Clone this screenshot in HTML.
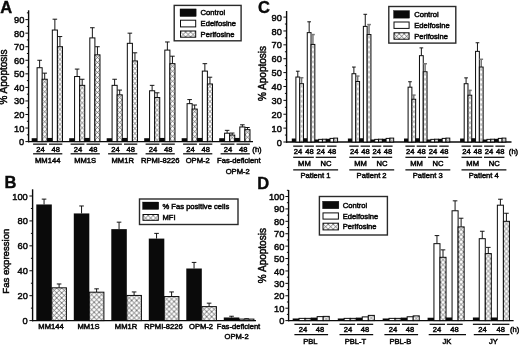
<!DOCTYPE html>
<html><head><meta charset="utf-8"><title>Figure</title>
<style>
html,body{margin:0;padding:0;background:#fff;}
body{width:520px;height:345px;overflow:hidden;font-family:"Liberation Sans",sans-serif;}
svg{display:block;will-change:transform;opacity:0.999;}
</style></head><body>
<svg width="520" height="345" viewBox="0 0 520 345" font-family="Liberation Sans, sans-serif">
<defs><pattern id="hA" patternUnits="userSpaceOnUse" width="5.0" height="5.0" x="0.040" y="0.000"><rect width="5.0" height="5.0" fill="#fff"/><path d="M0,0 L5.0,5.0 M5.0,0 L0,5.0" stroke="#333" stroke-width="0.62" fill="none" stroke-linecap="square"/></pattern><pattern id="hC" patternUnits="userSpaceOnUse" width="5.0" height="5.0" x="-0.605" y="0.000"><rect width="5.0" height="5.0" fill="#fff"/><path d="M0,0 L5.0,5.0 M5.0,0 L0,5.0" stroke="#333" stroke-width="0.45" fill="none" stroke-linecap="square"/></pattern><pattern id="hD" patternUnits="userSpaceOnUse" width="5.0" height="5.0" x="0.520" y="0.000"><rect width="5.0" height="5.0" fill="#fff"/><path d="M0,0 L5.0,5.0 M5.0,0 L0,5.0" stroke="#333" stroke-width="0.62" fill="none" stroke-linecap="square"/></pattern><pattern id="hB" patternUnits="userSpaceOnUse" width="5.0" height="5.0" x="4.800" y="0.000"><rect width="5.0" height="5.0" fill="#fff"/><path d="M0,0 L5.0,5.0 M5.0,0 L0,5.0" stroke="#333" stroke-width="0.68" fill="none" stroke-linecap="square"/></pattern><pattern id="hL" patternUnits="userSpaceOnUse" width="5.0" height="5.0" x="5.200" y="1.000"><rect width="5.0" height="5.0" fill="#fff"/><path d="M0,0 L5.0,5.0 M5.0,0 L0,5.0" stroke="#2a2a2a" stroke-width="0.6" fill="none" stroke-linecap="square"/></pattern></defs>
<rect width="520" height="345" fill="#fff"/>
<text x="0.20" y="12.60" font-size="16.5" text-anchor="start" font-weight="bold" stroke="#0a0a0a" stroke-width="0.4" fill="#0a0a0a">A</text>
<line x1="28.60" y1="10.30" x2="28.60" y2="142.30" stroke="#0a0a0a" stroke-width="1.4"/>
<line x1="25.40" y1="141.60" x2="28.60" y2="141.60" stroke="#0a0a0a" stroke-width="1.0"/>
<text transform="translate(24.30 145.14) scale(0.94 1)" font-size="9.9" text-anchor="end" stroke="#0a0a0a" stroke-width="0.5" fill="#0a0a0a">0</text>
<line x1="26.90" y1="134.82" x2="28.60" y2="134.82" stroke="#0a0a0a" stroke-width="1.0"/>
<line x1="25.40" y1="128.04" x2="28.60" y2="128.04" stroke="#0a0a0a" stroke-width="1.0"/>
<text transform="translate(24.30 131.59) scale(0.94 1)" font-size="9.9" text-anchor="end" stroke="#0a0a0a" stroke-width="0.5" fill="#0a0a0a">10</text>
<line x1="26.90" y1="121.27" x2="28.60" y2="121.27" stroke="#0a0a0a" stroke-width="1.0"/>
<line x1="25.40" y1="114.49" x2="28.60" y2="114.49" stroke="#0a0a0a" stroke-width="1.0"/>
<text transform="translate(24.30 118.03) scale(0.94 1)" font-size="9.9" text-anchor="end" stroke="#0a0a0a" stroke-width="0.5" fill="#0a0a0a">20</text>
<line x1="26.90" y1="107.71" x2="28.60" y2="107.71" stroke="#0a0a0a" stroke-width="1.0"/>
<line x1="25.40" y1="100.94" x2="28.60" y2="100.94" stroke="#0a0a0a" stroke-width="1.0"/>
<text transform="translate(24.30 104.48) scale(0.94 1)" font-size="9.9" text-anchor="end" stroke="#0a0a0a" stroke-width="0.5" fill="#0a0a0a">30</text>
<line x1="26.90" y1="94.16" x2="28.60" y2="94.16" stroke="#0a0a0a" stroke-width="1.0"/>
<line x1="25.40" y1="87.38" x2="28.60" y2="87.38" stroke="#0a0a0a" stroke-width="1.0"/>
<text transform="translate(24.30 90.92) scale(0.94 1)" font-size="9.9" text-anchor="end" stroke="#0a0a0a" stroke-width="0.5" fill="#0a0a0a">40</text>
<line x1="26.90" y1="80.60" x2="28.60" y2="80.60" stroke="#0a0a0a" stroke-width="1.0"/>
<line x1="25.40" y1="73.83" x2="28.60" y2="73.83" stroke="#0a0a0a" stroke-width="1.0"/>
<text transform="translate(24.30 77.37) scale(0.94 1)" font-size="9.9" text-anchor="end" stroke="#0a0a0a" stroke-width="0.5" fill="#0a0a0a">50</text>
<line x1="26.90" y1="67.05" x2="28.60" y2="67.05" stroke="#0a0a0a" stroke-width="1.0"/>
<line x1="25.40" y1="60.27" x2="28.60" y2="60.27" stroke="#0a0a0a" stroke-width="1.0"/>
<text transform="translate(24.30 63.81) scale(0.94 1)" font-size="9.9" text-anchor="end" stroke="#0a0a0a" stroke-width="0.5" fill="#0a0a0a">60</text>
<line x1="26.90" y1="53.49" x2="28.60" y2="53.49" stroke="#0a0a0a" stroke-width="1.0"/>
<line x1="25.40" y1="46.72" x2="28.60" y2="46.72" stroke="#0a0a0a" stroke-width="1.0"/>
<text transform="translate(24.30 50.26) scale(0.94 1)" font-size="9.9" text-anchor="end" stroke="#0a0a0a" stroke-width="0.5" fill="#0a0a0a">70</text>
<line x1="26.90" y1="39.94" x2="28.60" y2="39.94" stroke="#0a0a0a" stroke-width="1.0"/>
<line x1="25.40" y1="33.16" x2="28.60" y2="33.16" stroke="#0a0a0a" stroke-width="1.0"/>
<text transform="translate(24.30 36.70) scale(0.94 1)" font-size="9.9" text-anchor="end" stroke="#0a0a0a" stroke-width="0.5" fill="#0a0a0a">80</text>
<line x1="26.90" y1="26.38" x2="28.60" y2="26.38" stroke="#0a0a0a" stroke-width="1.0"/>
<line x1="25.40" y1="19.61" x2="28.60" y2="19.61" stroke="#0a0a0a" stroke-width="1.0"/>
<text transform="translate(24.30 23.15) scale(0.94 1)" font-size="9.9" text-anchor="end" stroke="#0a0a0a" stroke-width="0.5" fill="#0a0a0a">90</text>
<line x1="26.90" y1="12.83" x2="28.60" y2="12.83" stroke="#0a0a0a" stroke-width="1.0"/>
<line x1="28.00" y1="141.60" x2="253.00" y2="141.60" stroke="#0a0a0a" stroke-width="1.4"/>
<text x="7.30" y="77.00" font-size="10" text-anchor="middle" font-weight="normal" stroke="#0a0a0a" stroke-width="0.5" fill="#0a0a0a" transform="rotate(-90 7.30 77.00)">% Apoptosis</text>
<rect x="31.70" y="138.21" width="5.68" height="3.39" fill="#0a0a0a" stroke="#0a0a0a" stroke-width="0.01"/>
<line x1="39.62" y1="67.73" x2="39.62" y2="60.27" stroke="#0a0a0a" stroke-width="0.95"/>
<line x1="37.33" y1="60.27" x2="41.91" y2="60.27" stroke="#0a0a0a" stroke-width="0.95"/>
<rect x="37.08" y="67.73" width="5.08" height="73.87" fill="#fff" stroke="#0a0a0a" stroke-width="1.0"/>
<line x1="44.70" y1="79.25" x2="44.70" y2="73.15" stroke="#0a0a0a" stroke-width="0.95"/>
<line x1="42.41" y1="73.15" x2="46.99" y2="73.15" stroke="#0a0a0a" stroke-width="0.95"/>
<svg x="42.16" y="79.25" width="5.08" height="62.35"><rect x="0" y="0" width="5.08" height="62.35" fill="url(#hA)"/></svg>
<rect x="42.16" y="79.25" width="5.08" height="62.35" fill="none" stroke="#0a0a0a" stroke-width="1.0"/>
<rect x="46.94" y="137.94" width="5.68" height="3.66" fill="#0a0a0a" stroke="#0a0a0a" stroke-width="0.01"/>
<line x1="54.86" y1="30.04" x2="54.86" y2="19.20" stroke="#0a0a0a" stroke-width="0.95"/>
<line x1="52.57" y1="19.20" x2="57.15" y2="19.20" stroke="#0a0a0a" stroke-width="0.95"/>
<rect x="52.32" y="30.04" width="5.08" height="111.56" fill="#fff" stroke="#0a0a0a" stroke-width="1.0"/>
<line x1="59.94" y1="46.72" x2="59.94" y2="36.55" stroke="#0a0a0a" stroke-width="0.95"/>
<line x1="57.65" y1="36.55" x2="62.23" y2="36.55" stroke="#0a0a0a" stroke-width="0.95"/>
<svg x="57.40" y="46.72" width="5.08" height="94.88"><rect x="0" y="0" width="5.08" height="94.88" fill="url(#hA)"/></svg>
<rect x="57.40" y="46.72" width="5.08" height="94.88" fill="none" stroke="#0a0a0a" stroke-width="1.0"/>
<line x1="33.10" y1="144.15" x2="46.90" y2="144.15" stroke="#0a0a0a" stroke-width="1.25"/>
<line x1="49.00" y1="144.15" x2="62.30" y2="144.15" stroke="#0a0a0a" stroke-width="1.25"/>
<text x="40.60" y="152.00" font-size="7.6" text-anchor="middle" font-weight="normal" stroke="#0a0a0a" stroke-width="0.5" fill="#0a0a0a">24</text>
<text x="55.70" y="152.00" font-size="7.6" text-anchor="middle" font-weight="normal" stroke="#0a0a0a" stroke-width="0.5" fill="#0a0a0a">48</text>
<line x1="33.10" y1="153.80" x2="62.30" y2="153.80" stroke="#0a0a0a" stroke-width="1.25"/>
<text x="47.70" y="162.80" font-size="7.6" text-anchor="middle" font-weight="normal" stroke="#0a0a0a" stroke-width="0.5" fill="#0a0a0a">MM144</text>
<rect x="69.20" y="138.21" width="5.68" height="3.39" fill="#0a0a0a" stroke="#0a0a0a" stroke-width="0.01"/>
<line x1="77.12" y1="76.54" x2="77.12" y2="69.08" stroke="#0a0a0a" stroke-width="0.95"/>
<line x1="74.83" y1="69.08" x2="79.41" y2="69.08" stroke="#0a0a0a" stroke-width="0.95"/>
<rect x="74.58" y="76.54" width="5.08" height="65.06" fill="#fff" stroke="#0a0a0a" stroke-width="1.0"/>
<line x1="82.20" y1="85.35" x2="82.20" y2="79.25" stroke="#0a0a0a" stroke-width="0.95"/>
<line x1="79.91" y1="79.25" x2="84.49" y2="79.25" stroke="#0a0a0a" stroke-width="0.95"/>
<svg x="79.66" y="85.35" width="5.08" height="56.25"><rect x="0" y="0" width="5.08" height="56.25" fill="url(#hA)"/></svg>
<rect x="79.66" y="85.35" width="5.08" height="56.25" fill="none" stroke="#0a0a0a" stroke-width="1.0"/>
<rect x="84.44" y="137.94" width="5.68" height="3.66" fill="#0a0a0a" stroke="#0a0a0a" stroke-width="0.01"/>
<line x1="92.36" y1="37.90" x2="92.36" y2="27.74" stroke="#0a0a0a" stroke-width="0.95"/>
<line x1="90.07" y1="27.74" x2="94.65" y2="27.74" stroke="#0a0a0a" stroke-width="0.95"/>
<rect x="89.82" y="37.90" width="5.08" height="103.70" fill="#fff" stroke="#0a0a0a" stroke-width="1.0"/>
<line x1="97.44" y1="54.85" x2="97.44" y2="46.72" stroke="#0a0a0a" stroke-width="0.95"/>
<line x1="95.15" y1="46.72" x2="99.73" y2="46.72" stroke="#0a0a0a" stroke-width="0.95"/>
<svg x="94.90" y="54.85" width="5.08" height="86.75"><rect x="0" y="0" width="5.08" height="86.75" fill="url(#hA)"/></svg>
<rect x="94.90" y="54.85" width="5.08" height="86.75" fill="none" stroke="#0a0a0a" stroke-width="1.0"/>
<line x1="70.60" y1="144.15" x2="84.40" y2="144.15" stroke="#0a0a0a" stroke-width="1.25"/>
<line x1="86.50" y1="144.15" x2="99.80" y2="144.15" stroke="#0a0a0a" stroke-width="1.25"/>
<text x="78.10" y="152.00" font-size="7.6" text-anchor="middle" font-weight="normal" stroke="#0a0a0a" stroke-width="0.5" fill="#0a0a0a">24</text>
<text x="93.20" y="152.00" font-size="7.6" text-anchor="middle" font-weight="normal" stroke="#0a0a0a" stroke-width="0.5" fill="#0a0a0a">48</text>
<line x1="70.60" y1="153.80" x2="99.80" y2="153.80" stroke="#0a0a0a" stroke-width="1.25"/>
<text x="85.20" y="162.80" font-size="7.6" text-anchor="middle" font-weight="normal" stroke="#0a0a0a" stroke-width="0.5" fill="#0a0a0a">MM1S</text>
<rect x="106.70" y="138.21" width="5.68" height="3.39" fill="#0a0a0a" stroke="#0a0a0a" stroke-width="0.01"/>
<line x1="114.62" y1="85.35" x2="114.62" y2="79.25" stroke="#0a0a0a" stroke-width="0.95"/>
<line x1="112.33" y1="79.25" x2="116.91" y2="79.25" stroke="#0a0a0a" stroke-width="0.95"/>
<rect x="112.08" y="85.35" width="5.08" height="56.25" fill="#fff" stroke="#0a0a0a" stroke-width="1.0"/>
<line x1="119.70" y1="94.84" x2="119.70" y2="90.09" stroke="#0a0a0a" stroke-width="0.95"/>
<line x1="117.41" y1="90.09" x2="121.99" y2="90.09" stroke="#0a0a0a" stroke-width="0.95"/>
<svg x="117.16" y="94.84" width="5.08" height="46.76"><rect x="0" y="0" width="5.08" height="46.76" fill="url(#hA)"/></svg>
<rect x="117.16" y="94.84" width="5.08" height="46.76" fill="none" stroke="#0a0a0a" stroke-width="1.0"/>
<rect x="121.94" y="137.94" width="5.68" height="3.66" fill="#0a0a0a" stroke="#0a0a0a" stroke-width="0.01"/>
<line x1="129.86" y1="43.33" x2="129.86" y2="33.16" stroke="#0a0a0a" stroke-width="0.95"/>
<line x1="127.57" y1="33.16" x2="132.15" y2="33.16" stroke="#0a0a0a" stroke-width="0.95"/>
<rect x="127.32" y="43.33" width="5.08" height="98.27" fill="#fff" stroke="#0a0a0a" stroke-width="1.0"/>
<line x1="134.94" y1="60.95" x2="134.94" y2="52.81" stroke="#0a0a0a" stroke-width="0.95"/>
<line x1="132.65" y1="52.81" x2="137.23" y2="52.81" stroke="#0a0a0a" stroke-width="0.95"/>
<svg x="132.40" y="60.95" width="5.08" height="80.65"><rect x="0" y="0" width="5.08" height="80.65" fill="url(#hA)"/></svg>
<rect x="132.40" y="60.95" width="5.08" height="80.65" fill="none" stroke="#0a0a0a" stroke-width="1.0"/>
<line x1="108.10" y1="144.15" x2="121.90" y2="144.15" stroke="#0a0a0a" stroke-width="1.25"/>
<line x1="124.00" y1="144.15" x2="137.30" y2="144.15" stroke="#0a0a0a" stroke-width="1.25"/>
<text x="115.60" y="152.00" font-size="7.6" text-anchor="middle" font-weight="normal" stroke="#0a0a0a" stroke-width="0.5" fill="#0a0a0a">24</text>
<text x="130.70" y="152.00" font-size="7.6" text-anchor="middle" font-weight="normal" stroke="#0a0a0a" stroke-width="0.5" fill="#0a0a0a">48</text>
<line x1="108.10" y1="153.80" x2="137.30" y2="153.80" stroke="#0a0a0a" stroke-width="1.25"/>
<text x="122.70" y="162.80" font-size="7.6" text-anchor="middle" font-weight="normal" stroke="#0a0a0a" stroke-width="0.5" fill="#0a0a0a">MM1R</text>
<rect x="144.20" y="138.21" width="5.68" height="3.39" fill="#0a0a0a" stroke="#0a0a0a" stroke-width="0.01"/>
<line x1="152.12" y1="90.77" x2="152.12" y2="85.35" stroke="#0a0a0a" stroke-width="0.95"/>
<line x1="149.83" y1="85.35" x2="154.41" y2="85.35" stroke="#0a0a0a" stroke-width="0.95"/>
<rect x="149.58" y="90.77" width="5.08" height="50.83" fill="#fff" stroke="#0a0a0a" stroke-width="1.0"/>
<line x1="157.20" y1="97.55" x2="157.20" y2="92.80" stroke="#0a0a0a" stroke-width="0.95"/>
<line x1="154.91" y1="92.80" x2="159.49" y2="92.80" stroke="#0a0a0a" stroke-width="0.95"/>
<svg x="154.66" y="97.55" width="5.08" height="44.05"><rect x="0" y="0" width="5.08" height="44.05" fill="url(#hA)"/></svg>
<rect x="154.66" y="97.55" width="5.08" height="44.05" fill="none" stroke="#0a0a0a" stroke-width="1.0"/>
<rect x="159.44" y="137.94" width="5.68" height="3.66" fill="#0a0a0a" stroke="#0a0a0a" stroke-width="0.01"/>
<line x1="167.36" y1="50.10" x2="167.36" y2="41.97" stroke="#0a0a0a" stroke-width="0.95"/>
<line x1="165.07" y1="41.97" x2="169.65" y2="41.97" stroke="#0a0a0a" stroke-width="0.95"/>
<rect x="164.82" y="50.10" width="5.08" height="91.50" fill="#fff" stroke="#0a0a0a" stroke-width="1.0"/>
<line x1="172.44" y1="63.66" x2="172.44" y2="56.20" stroke="#0a0a0a" stroke-width="0.95"/>
<line x1="170.15" y1="56.20" x2="174.73" y2="56.20" stroke="#0a0a0a" stroke-width="0.95"/>
<svg x="169.90" y="63.66" width="5.08" height="77.94"><rect x="0" y="0" width="5.08" height="77.94" fill="url(#hA)"/></svg>
<rect x="169.90" y="63.66" width="5.08" height="77.94" fill="none" stroke="#0a0a0a" stroke-width="1.0"/>
<line x1="145.60" y1="144.15" x2="159.40" y2="144.15" stroke="#0a0a0a" stroke-width="1.25"/>
<line x1="161.50" y1="144.15" x2="174.80" y2="144.15" stroke="#0a0a0a" stroke-width="1.25"/>
<text x="153.10" y="152.00" font-size="7.6" text-anchor="middle" font-weight="normal" stroke="#0a0a0a" stroke-width="0.5" fill="#0a0a0a">24</text>
<text x="168.20" y="152.00" font-size="7.6" text-anchor="middle" font-weight="normal" stroke="#0a0a0a" stroke-width="0.5" fill="#0a0a0a">48</text>
<line x1="145.60" y1="153.80" x2="174.80" y2="153.80" stroke="#0a0a0a" stroke-width="1.25"/>
<text x="160.20" y="162.80" font-size="7.6" text-anchor="middle" font-weight="normal" stroke="#0a0a0a" stroke-width="0.5" fill="#0a0a0a">RPMI-8226</text>
<rect x="181.70" y="138.21" width="5.68" height="3.39" fill="#0a0a0a" stroke="#0a0a0a" stroke-width="0.01"/>
<line x1="189.62" y1="103.65" x2="189.62" y2="99.58" stroke="#0a0a0a" stroke-width="0.95"/>
<line x1="187.33" y1="99.58" x2="191.91" y2="99.58" stroke="#0a0a0a" stroke-width="0.95"/>
<rect x="187.08" y="103.65" width="5.08" height="37.95" fill="#fff" stroke="#0a0a0a" stroke-width="1.0"/>
<line x1="194.70" y1="109.07" x2="194.70" y2="105.00" stroke="#0a0a0a" stroke-width="0.95"/>
<line x1="192.41" y1="105.00" x2="196.99" y2="105.00" stroke="#0a0a0a" stroke-width="0.95"/>
<svg x="192.16" y="109.07" width="5.08" height="32.53"><rect x="0" y="0" width="5.08" height="32.53" fill="url(#hA)"/></svg>
<rect x="192.16" y="109.07" width="5.08" height="32.53" fill="none" stroke="#0a0a0a" stroke-width="1.0"/>
<rect x="196.94" y="137.94" width="5.68" height="3.66" fill="#0a0a0a" stroke="#0a0a0a" stroke-width="0.01"/>
<line x1="204.86" y1="71.11" x2="204.86" y2="63.66" stroke="#0a0a0a" stroke-width="0.95"/>
<line x1="202.57" y1="63.66" x2="207.15" y2="63.66" stroke="#0a0a0a" stroke-width="0.95"/>
<rect x="202.32" y="71.11" width="5.08" height="70.49" fill="#fff" stroke="#0a0a0a" stroke-width="1.0"/>
<line x1="209.94" y1="83.99" x2="209.94" y2="77.21" stroke="#0a0a0a" stroke-width="0.95"/>
<line x1="207.65" y1="77.21" x2="212.23" y2="77.21" stroke="#0a0a0a" stroke-width="0.95"/>
<svg x="207.40" y="83.99" width="5.08" height="57.61"><rect x="0" y="0" width="5.08" height="57.61" fill="url(#hA)"/></svg>
<rect x="207.40" y="83.99" width="5.08" height="57.61" fill="none" stroke="#0a0a0a" stroke-width="1.0"/>
<line x1="183.10" y1="144.15" x2="196.90" y2="144.15" stroke="#0a0a0a" stroke-width="1.25"/>
<line x1="199.00" y1="144.15" x2="212.30" y2="144.15" stroke="#0a0a0a" stroke-width="1.25"/>
<text x="190.60" y="152.00" font-size="7.6" text-anchor="middle" font-weight="normal" stroke="#0a0a0a" stroke-width="0.5" fill="#0a0a0a">24</text>
<text x="205.70" y="152.00" font-size="7.6" text-anchor="middle" font-weight="normal" stroke="#0a0a0a" stroke-width="0.5" fill="#0a0a0a">48</text>
<line x1="183.10" y1="153.80" x2="212.30" y2="153.80" stroke="#0a0a0a" stroke-width="1.25"/>
<text x="197.70" y="162.80" font-size="7.6" text-anchor="middle" font-weight="normal" stroke="#0a0a0a" stroke-width="0.5" fill="#0a0a0a">OPM-2</text>
<rect x="219.20" y="138.21" width="5.68" height="3.39" fill="#0a0a0a" stroke="#0a0a0a" stroke-width="0.01"/>
<line x1="227.12" y1="133.20" x2="227.12" y2="130.35" stroke="#0a0a0a" stroke-width="0.95"/>
<line x1="224.83" y1="130.35" x2="229.41" y2="130.35" stroke="#0a0a0a" stroke-width="0.95"/>
<rect x="224.58" y="133.20" width="5.08" height="8.40" fill="#fff" stroke="#0a0a0a" stroke-width="1.0"/>
<line x1="232.20" y1="135.09" x2="232.20" y2="133.06" stroke="#0a0a0a" stroke-width="0.95"/>
<line x1="229.91" y1="133.06" x2="234.49" y2="133.06" stroke="#0a0a0a" stroke-width="0.95"/>
<svg x="229.66" y="135.09" width="5.08" height="6.51"><rect x="0" y="0" width="5.08" height="6.51" fill="url(#hA)"/></svg>
<rect x="229.66" y="135.09" width="5.08" height="6.51" fill="none" stroke="#0a0a0a" stroke-width="1.0"/>
<rect x="234.44" y="137.94" width="5.68" height="3.66" fill="#0a0a0a" stroke="#0a0a0a" stroke-width="0.01"/>
<line x1="242.36" y1="126.96" x2="242.36" y2="124.79" stroke="#0a0a0a" stroke-width="0.95"/>
<line x1="240.07" y1="124.79" x2="244.65" y2="124.79" stroke="#0a0a0a" stroke-width="0.95"/>
<rect x="239.82" y="126.96" width="5.08" height="14.64" fill="#fff" stroke="#0a0a0a" stroke-width="1.0"/>
<line x1="247.44" y1="129.67" x2="247.44" y2="127.50" stroke="#0a0a0a" stroke-width="0.95"/>
<line x1="245.15" y1="127.50" x2="249.73" y2="127.50" stroke="#0a0a0a" stroke-width="0.95"/>
<svg x="244.90" y="129.67" width="5.08" height="11.93"><rect x="0" y="0" width="5.08" height="11.93" fill="url(#hA)"/></svg>
<rect x="244.90" y="129.67" width="5.08" height="11.93" fill="none" stroke="#0a0a0a" stroke-width="1.0"/>
<line x1="220.60" y1="144.15" x2="234.40" y2="144.15" stroke="#0a0a0a" stroke-width="1.25"/>
<line x1="236.50" y1="144.15" x2="249.80" y2="144.15" stroke="#0a0a0a" stroke-width="1.25"/>
<text x="228.10" y="152.00" font-size="7.6" text-anchor="middle" font-weight="normal" stroke="#0a0a0a" stroke-width="0.5" fill="#0a0a0a">24</text>
<text x="243.20" y="152.00" font-size="7.6" text-anchor="middle" font-weight="normal" stroke="#0a0a0a" stroke-width="0.5" fill="#0a0a0a">48</text>
<line x1="220.60" y1="153.80" x2="249.80" y2="153.80" stroke="#0a0a0a" stroke-width="1.25"/>
<text x="238.80" y="162.80" font-size="7.6" text-anchor="middle" font-weight="normal" stroke="#0a0a0a" stroke-width="0.5" fill="#0a0a0a">Fas-deficient</text>
<text x="237.70" y="174.20" font-size="7.6" text-anchor="middle" font-weight="normal" stroke="#0a0a0a" stroke-width="0.5" fill="#0a0a0a">OPM-2</text>
<text x="257.00" y="152.00" font-size="7.6" text-anchor="middle" font-weight="normal" stroke="#0a0a0a" stroke-width="0.5" fill="#0a0a0a">(h)</text>
<rect x="174.20" y="5.40" width="66.90" height="35.40" fill="#fff" stroke="#2a2a2a" stroke-width="1.4"/>
<rect x="180.00" y="8.90" width="16.20" height="7.70" fill="#0a0a0a" stroke="#0a0a0a" stroke-width="0.3"/>
<text x="200.60" y="15.32" font-size="7.6" text-anchor="start" font-weight="normal" stroke="#0a0a0a" stroke-width="0.5" fill="#0a0a0a">Control</text>
<rect x="180.50" y="20.20" width="15.20" height="6.70" fill="#fff" stroke="#0a0a0a" stroke-width="1.0"/>
<text x="200.60" y="26.12" font-size="7.6" text-anchor="start" font-weight="normal" stroke="#0a0a0a" stroke-width="0.5" fill="#0a0a0a">Edelfosine</text>
<svg x="180.50" y="31.00" width="15.20" height="6.20"><rect x="0" y="0" width="15.20" height="6.20" fill="url(#hL)"/></svg>
<rect x="180.50" y="31.00" width="15.20" height="6.20" fill="none" stroke="#0a0a0a" stroke-width="1.0"/>
<text x="200.60" y="36.52" font-size="7.6" text-anchor="start" font-weight="normal" stroke="#0a0a0a" stroke-width="0.5" fill="#0a0a0a">Perifosine</text>
<text x="4.60" y="188.30" font-size="16.5" text-anchor="start" font-weight="bold" stroke="#0a0a0a" stroke-width="0.4" fill="#0a0a0a">B</text>
<line x1="32.60" y1="189.30" x2="32.60" y2="321.30" stroke="#0a0a0a" stroke-width="1.4"/>
<line x1="29.40" y1="320.60" x2="32.60" y2="320.60" stroke="#0a0a0a" stroke-width="1.0"/>
<text transform="translate(27.80 324.14) scale(0.94 1)" font-size="9.9" text-anchor="end" stroke="#0a0a0a" stroke-width="0.5" fill="#0a0a0a">0</text>
<line x1="30.90" y1="308.14" x2="32.60" y2="308.14" stroke="#0a0a0a" stroke-width="1.0"/>
<line x1="29.40" y1="295.68" x2="32.60" y2="295.68" stroke="#0a0a0a" stroke-width="1.0"/>
<text transform="translate(27.80 299.22) scale(0.94 1)" font-size="9.9" text-anchor="end" stroke="#0a0a0a" stroke-width="0.5" fill="#0a0a0a">20</text>
<line x1="30.90" y1="283.22" x2="32.60" y2="283.22" stroke="#0a0a0a" stroke-width="1.0"/>
<line x1="29.40" y1="270.76" x2="32.60" y2="270.76" stroke="#0a0a0a" stroke-width="1.0"/>
<text transform="translate(27.80 274.30) scale(0.94 1)" font-size="9.9" text-anchor="end" stroke="#0a0a0a" stroke-width="0.5" fill="#0a0a0a">40</text>
<line x1="30.90" y1="258.30" x2="32.60" y2="258.30" stroke="#0a0a0a" stroke-width="1.0"/>
<line x1="29.40" y1="245.84" x2="32.60" y2="245.84" stroke="#0a0a0a" stroke-width="1.0"/>
<text transform="translate(27.80 249.38) scale(0.94 1)" font-size="9.9" text-anchor="end" stroke="#0a0a0a" stroke-width="0.5" fill="#0a0a0a">60</text>
<line x1="30.90" y1="233.38" x2="32.60" y2="233.38" stroke="#0a0a0a" stroke-width="1.0"/>
<line x1="29.40" y1="220.92" x2="32.60" y2="220.92" stroke="#0a0a0a" stroke-width="1.0"/>
<text transform="translate(27.80 224.46) scale(0.94 1)" font-size="9.9" text-anchor="end" stroke="#0a0a0a" stroke-width="0.5" fill="#0a0a0a">80</text>
<line x1="30.90" y1="208.46" x2="32.60" y2="208.46" stroke="#0a0a0a" stroke-width="1.0"/>
<line x1="29.40" y1="196.00" x2="32.60" y2="196.00" stroke="#0a0a0a" stroke-width="1.0"/>
<text transform="translate(27.80 199.54) scale(0.94 1)" font-size="9.9" text-anchor="end" stroke="#0a0a0a" stroke-width="0.5" fill="#0a0a0a">100</text>
<line x1="32.00" y1="320.60" x2="256.00" y2="320.60" stroke="#0a0a0a" stroke-width="1.4"/>
<text x="9.40" y="293.70" font-size="9.6" text-anchor="start" font-weight="normal" stroke="#0a0a0a" stroke-width="0.5" fill="#0a0a0a" transform="rotate(-90 9.40 293.70)">Fas expression</text>
<line x1="44.05" y1="204.47" x2="44.05" y2="199.12" stroke="#0a0a0a" stroke-width="0.95"/>
<line x1="41.75" y1="199.12" x2="46.35" y2="199.12" stroke="#0a0a0a" stroke-width="0.95"/>
<rect x="36.30" y="204.47" width="15.50" height="116.13" fill="#0a0a0a" stroke="#0a0a0a" stroke-width="0.01"/>
<line x1="59.10" y1="287.83" x2="59.10" y2="283.97" stroke="#0a0a0a" stroke-width="0.95"/>
<line x1="56.80" y1="283.97" x2="61.40" y2="283.97" stroke="#0a0a0a" stroke-width="0.95"/>
<svg x="51.80" y="287.83" width="14.60" height="32.77"><rect x="0" y="0" width="14.60" height="32.77" fill="url(#hB)"/></svg>
<rect x="51.80" y="287.83" width="14.60" height="32.77" fill="none" stroke="#0a0a0a" stroke-width="1.0"/>
<text x="51.00" y="329.40" font-size="7.6" text-anchor="middle" font-weight="normal" stroke="#0a0a0a" stroke-width="0.5" fill="#0a0a0a">MM144</text>
<line x1="81.55" y1="213.44" x2="81.55" y2="205.97" stroke="#0a0a0a" stroke-width="0.95"/>
<line x1="79.25" y1="205.97" x2="83.85" y2="205.97" stroke="#0a0a0a" stroke-width="0.95"/>
<rect x="73.80" y="213.44" width="15.50" height="107.16" fill="#0a0a0a" stroke="#0a0a0a" stroke-width="0.01"/>
<line x1="96.60" y1="292.19" x2="96.60" y2="288.83" stroke="#0a0a0a" stroke-width="0.95"/>
<line x1="94.30" y1="288.83" x2="98.90" y2="288.83" stroke="#0a0a0a" stroke-width="0.95"/>
<svg x="89.30" y="292.19" width="14.60" height="28.41"><rect x="0" y="0" width="14.60" height="28.41" fill="url(#hB)"/></svg>
<rect x="89.30" y="292.19" width="14.60" height="28.41" fill="none" stroke="#0a0a0a" stroke-width="1.0"/>
<text x="88.50" y="329.40" font-size="7.6" text-anchor="middle" font-weight="normal" stroke="#0a0a0a" stroke-width="0.5" fill="#0a0a0a">MM1S</text>
<line x1="119.05" y1="229.14" x2="119.05" y2="222.17" stroke="#0a0a0a" stroke-width="0.95"/>
<line x1="116.75" y1="222.17" x2="121.35" y2="222.17" stroke="#0a0a0a" stroke-width="0.95"/>
<rect x="111.30" y="229.14" width="15.50" height="91.46" fill="#0a0a0a" stroke="#0a0a0a" stroke-width="0.01"/>
<line x1="134.10" y1="295.43" x2="134.10" y2="291.94" stroke="#0a0a0a" stroke-width="0.95"/>
<line x1="131.80" y1="291.94" x2="136.40" y2="291.94" stroke="#0a0a0a" stroke-width="0.95"/>
<svg x="126.80" y="295.43" width="14.60" height="25.17"><rect x="0" y="0" width="14.60" height="25.17" fill="url(#hB)"/></svg>
<rect x="126.80" y="295.43" width="14.60" height="25.17" fill="none" stroke="#0a0a0a" stroke-width="1.0"/>
<text x="126.00" y="329.40" font-size="7.6" text-anchor="middle" font-weight="normal" stroke="#0a0a0a" stroke-width="0.5" fill="#0a0a0a">MM1R</text>
<line x1="156.55" y1="238.61" x2="156.55" y2="233.38" stroke="#0a0a0a" stroke-width="0.95"/>
<line x1="154.25" y1="233.38" x2="158.85" y2="233.38" stroke="#0a0a0a" stroke-width="0.95"/>
<rect x="148.80" y="238.61" width="15.50" height="81.99" fill="#0a0a0a" stroke="#0a0a0a" stroke-width="0.01"/>
<line x1="171.60" y1="296.55" x2="171.60" y2="291.94" stroke="#0a0a0a" stroke-width="0.95"/>
<line x1="169.30" y1="291.94" x2="173.90" y2="291.94" stroke="#0a0a0a" stroke-width="0.95"/>
<svg x="164.30" y="296.55" width="14.60" height="24.05"><rect x="0" y="0" width="14.60" height="24.05" fill="url(#hB)"/></svg>
<rect x="164.30" y="296.55" width="14.60" height="24.05" fill="none" stroke="#0a0a0a" stroke-width="1.0"/>
<text x="163.50" y="329.40" font-size="7.6" text-anchor="middle" font-weight="normal" stroke="#0a0a0a" stroke-width="0.5" fill="#0a0a0a">RPMI-8226</text>
<line x1="194.05" y1="268.52" x2="194.05" y2="262.41" stroke="#0a0a0a" stroke-width="0.95"/>
<line x1="191.75" y1="262.41" x2="196.35" y2="262.41" stroke="#0a0a0a" stroke-width="0.95"/>
<rect x="186.30" y="268.52" width="15.50" height="52.08" fill="#0a0a0a" stroke="#0a0a0a" stroke-width="0.01"/>
<line x1="209.10" y1="306.64" x2="209.10" y2="303.16" stroke="#0a0a0a" stroke-width="0.95"/>
<line x1="206.80" y1="303.16" x2="211.40" y2="303.16" stroke="#0a0a0a" stroke-width="0.95"/>
<svg x="201.80" y="306.64" width="14.60" height="13.96"><rect x="0" y="0" width="14.60" height="13.96" fill="url(#hB)"/></svg>
<rect x="201.80" y="306.64" width="14.60" height="13.96" fill="none" stroke="#0a0a0a" stroke-width="1.0"/>
<text x="201.00" y="329.40" font-size="7.6" text-anchor="middle" font-weight="normal" stroke="#0a0a0a" stroke-width="0.5" fill="#0a0a0a">OPM-2</text>
<line x1="231.55" y1="317.49" x2="231.55" y2="316.24" stroke="#0a0a0a" stroke-width="0.95"/>
<line x1="229.25" y1="316.24" x2="233.85" y2="316.24" stroke="#0a0a0a" stroke-width="0.95"/>
<rect x="223.80" y="317.49" width="15.50" height="3.12" fill="#0a0a0a" stroke="#0a0a0a" stroke-width="0.01"/>
<line x1="246.60" y1="319.10" x2="246.60" y2="318.73" stroke="#0a0a0a" stroke-width="0.95"/>
<line x1="244.30" y1="318.73" x2="248.90" y2="318.73" stroke="#0a0a0a" stroke-width="0.95"/>
<svg x="239.30" y="319.10" width="14.60" height="1.50"><rect x="0" y="0" width="14.60" height="1.50" fill="url(#hB)"/></svg>
<rect x="239.30" y="319.10" width="14.60" height="1.50" fill="none" stroke="#0a0a0a" stroke-width="1.0"/>
<text x="238.50" y="329.40" font-size="7.6" text-anchor="middle" font-weight="normal" stroke="#0a0a0a" stroke-width="0.5" fill="#0a0a0a">Fas-deficient</text>
<text x="236.60" y="339.30" font-size="7.6" text-anchor="middle" font-weight="normal" stroke="#0a0a0a" stroke-width="0.5" fill="#0a0a0a">OPM-2</text>
<rect x="139.50" y="199.00" width="98.50" height="25.50" fill="#fff" stroke="#2a2a2a" stroke-width="1.4"/>
<rect x="142.50" y="202.00" width="16.30" height="7.50" fill="#0a0a0a" stroke="#0a0a0a" stroke-width="0.3"/>
<text x="162.50" y="208.92" font-size="7.6" text-anchor="start" font-weight="normal" stroke="#0a0a0a" stroke-width="0.5" fill="#0a0a0a">% Fas positive cells</text>
<svg x="143.00" y="214.50" width="15.30" height="5.80"><rect x="0" y="0" width="15.30" height="5.80" fill="url(#hL)"/></svg>
<rect x="143.00" y="214.50" width="15.30" height="5.80" fill="none" stroke="#0a0a0a" stroke-width="1.0"/>
<text x="162.50" y="220.22" font-size="7.6" text-anchor="start" font-weight="normal" stroke="#0a0a0a" stroke-width="0.5" fill="#0a0a0a">MFI</text>
<text x="258.00" y="12.50" font-size="16.5" text-anchor="start" font-weight="bold" stroke="#0a0a0a" stroke-width="0.4" fill="#0a0a0a">C</text>
<line x1="286.60" y1="11.00" x2="286.60" y2="142.70" stroke="#0a0a0a" stroke-width="1.4"/>
<line x1="283.40" y1="142.00" x2="286.60" y2="142.00" stroke="#0a0a0a" stroke-width="1.0"/>
<text transform="translate(281.90 145.54) scale(0.94 1)" font-size="9.9" text-anchor="end" stroke="#0a0a0a" stroke-width="0.5" fill="#0a0a0a">0</text>
<line x1="284.90" y1="135.06" x2="286.60" y2="135.06" stroke="#0a0a0a" stroke-width="1.0"/>
<line x1="283.40" y1="128.12" x2="286.60" y2="128.12" stroke="#0a0a0a" stroke-width="1.0"/>
<text transform="translate(281.90 131.66) scale(0.94 1)" font-size="9.9" text-anchor="end" stroke="#0a0a0a" stroke-width="0.5" fill="#0a0a0a">10</text>
<line x1="284.90" y1="121.18" x2="286.60" y2="121.18" stroke="#0a0a0a" stroke-width="1.0"/>
<line x1="283.40" y1="114.24" x2="286.60" y2="114.24" stroke="#0a0a0a" stroke-width="1.0"/>
<text transform="translate(281.90 117.78) scale(0.94 1)" font-size="9.9" text-anchor="end" stroke="#0a0a0a" stroke-width="0.5" fill="#0a0a0a">20</text>
<line x1="284.90" y1="107.30" x2="286.60" y2="107.30" stroke="#0a0a0a" stroke-width="1.0"/>
<line x1="283.40" y1="100.36" x2="286.60" y2="100.36" stroke="#0a0a0a" stroke-width="1.0"/>
<text transform="translate(281.90 103.90) scale(0.94 1)" font-size="9.9" text-anchor="end" stroke="#0a0a0a" stroke-width="0.5" fill="#0a0a0a">30</text>
<line x1="284.90" y1="93.42" x2="286.60" y2="93.42" stroke="#0a0a0a" stroke-width="1.0"/>
<line x1="283.40" y1="86.48" x2="286.60" y2="86.48" stroke="#0a0a0a" stroke-width="1.0"/>
<text transform="translate(281.90 90.02) scale(0.94 1)" font-size="9.9" text-anchor="end" stroke="#0a0a0a" stroke-width="0.5" fill="#0a0a0a">40</text>
<line x1="284.90" y1="79.54" x2="286.60" y2="79.54" stroke="#0a0a0a" stroke-width="1.0"/>
<line x1="283.40" y1="72.60" x2="286.60" y2="72.60" stroke="#0a0a0a" stroke-width="1.0"/>
<text transform="translate(281.90 76.14) scale(0.94 1)" font-size="9.9" text-anchor="end" stroke="#0a0a0a" stroke-width="0.5" fill="#0a0a0a">50</text>
<line x1="284.90" y1="65.66" x2="286.60" y2="65.66" stroke="#0a0a0a" stroke-width="1.0"/>
<line x1="283.40" y1="58.72" x2="286.60" y2="58.72" stroke="#0a0a0a" stroke-width="1.0"/>
<text transform="translate(281.90 62.26) scale(0.94 1)" font-size="9.9" text-anchor="end" stroke="#0a0a0a" stroke-width="0.5" fill="#0a0a0a">60</text>
<line x1="284.90" y1="51.78" x2="286.60" y2="51.78" stroke="#0a0a0a" stroke-width="1.0"/>
<line x1="283.40" y1="44.84" x2="286.60" y2="44.84" stroke="#0a0a0a" stroke-width="1.0"/>
<text transform="translate(281.90 48.38) scale(0.94 1)" font-size="9.9" text-anchor="end" stroke="#0a0a0a" stroke-width="0.5" fill="#0a0a0a">70</text>
<line x1="284.90" y1="37.90" x2="286.60" y2="37.90" stroke="#0a0a0a" stroke-width="1.0"/>
<line x1="283.40" y1="30.96" x2="286.60" y2="30.96" stroke="#0a0a0a" stroke-width="1.0"/>
<text transform="translate(281.90 34.50) scale(0.94 1)" font-size="9.9" text-anchor="end" stroke="#0a0a0a" stroke-width="0.5" fill="#0a0a0a">80</text>
<line x1="284.90" y1="24.02" x2="286.60" y2="24.02" stroke="#0a0a0a" stroke-width="1.0"/>
<line x1="283.40" y1="17.08" x2="286.60" y2="17.08" stroke="#0a0a0a" stroke-width="1.0"/>
<text transform="translate(281.90 20.62) scale(0.94 1)" font-size="9.9" text-anchor="end" stroke="#0a0a0a" stroke-width="0.5" fill="#0a0a0a">90</text>
<line x1="286.00" y1="142.00" x2="511.50" y2="142.00" stroke="#0a0a0a" stroke-width="1.4"/>
<text x="265.70" y="73.50" font-size="10" text-anchor="middle" font-weight="normal" stroke="#0a0a0a" stroke-width="0.5" fill="#0a0a0a" transform="rotate(-90 265.70 73.50)">% Apoptosis</text>
<rect x="291.80" y="138.53" width="4.39" height="3.47" fill="#0a0a0a" stroke="#0a0a0a" stroke-width="0.01"/>
<line x1="297.79" y1="77.04" x2="297.79" y2="71.21" stroke="#0a0a0a" stroke-width="0.95"/>
<line x1="295.94" y1="71.21" x2="299.64" y2="71.21" stroke="#0a0a0a" stroke-width="0.95"/>
<rect x="295.89" y="77.04" width="3.79" height="64.96" fill="#fff" stroke="#0a0a0a" stroke-width="1.0"/>
<line x1="301.57" y1="83.70" x2="301.57" y2="77.74" stroke="#777" stroke-width="1.5"/>
<line x1="299.72" y1="77.74" x2="303.43" y2="77.74" stroke="#777" stroke-width="1.5"/>
<svg x="299.68" y="83.70" width="3.79" height="58.30"><rect x="0" y="0" width="3.79" height="58.30" fill="url(#hC)"/></svg>
<rect x="299.68" y="83.70" width="3.79" height="58.30" fill="none" stroke="#0a0a0a" stroke-width="1.0"/>
<rect x="303.17" y="138.25" width="4.39" height="3.75" fill="#0a0a0a" stroke="#0a0a0a" stroke-width="0.01"/>
<line x1="309.16" y1="32.63" x2="309.16" y2="21.80" stroke="#0a0a0a" stroke-width="0.95"/>
<line x1="307.31" y1="21.80" x2="311.01" y2="21.80" stroke="#0a0a0a" stroke-width="0.95"/>
<rect x="307.26" y="32.63" width="3.79" height="109.37" fill="#fff" stroke="#0a0a0a" stroke-width="1.0"/>
<line x1="312.94" y1="44.42" x2="312.94" y2="34.57" stroke="#777" stroke-width="1.5"/>
<line x1="311.09" y1="34.57" x2="314.80" y2="34.57" stroke="#777" stroke-width="1.5"/>
<svg x="311.05" y="44.42" width="3.79" height="97.58"><rect x="0" y="0" width="3.79" height="97.58" fill="url(#hC)"/></svg>
<rect x="311.05" y="44.42" width="3.79" height="97.58" fill="none" stroke="#0a0a0a" stroke-width="1.0"/>
<rect x="314.54" y="139.50" width="4.39" height="2.50" fill="#0a0a0a" stroke="#0a0a0a" stroke-width="0.01"/>
<rect x="318.63" y="139.36" width="3.79" height="2.64" fill="#fff" stroke="#0a0a0a" stroke-width="1.0"/>
<svg x="322.42" y="139.22" width="3.79" height="2.78"><rect x="0" y="0" width="3.79" height="2.78" fill="url(#hC)"/></svg>
<rect x="322.42" y="139.22" width="3.79" height="2.78" fill="none" stroke="#0a0a0a" stroke-width="1.0"/>
<rect x="325.91" y="138.81" width="4.39" height="3.19" fill="#0a0a0a" stroke="#0a0a0a" stroke-width="0.01"/>
<rect x="330.00" y="138.39" width="3.79" height="3.61" fill="#fff" stroke="#0a0a0a" stroke-width="1.0"/>
<svg x="333.79" y="138.11" width="3.79" height="3.89"><rect x="0" y="0" width="3.79" height="3.89" fill="url(#hC)"/></svg>
<rect x="333.79" y="138.11" width="3.79" height="3.89" fill="none" stroke="#0a0a0a" stroke-width="1.0"/>
<line x1="293.20" y1="146.15" x2="302.60" y2="146.15" stroke="#0a0a0a" stroke-width="1.25"/>
<text x="298.10" y="153.70" font-size="7.6" text-anchor="middle" font-weight="normal" stroke="#0a0a0a" stroke-width="0.5" fill="#0a0a0a">24</text>
<line x1="304.50" y1="146.15" x2="313.90" y2="146.15" stroke="#0a0a0a" stroke-width="1.25"/>
<text x="309.40" y="153.70" font-size="7.6" text-anchor="middle" font-weight="normal" stroke="#0a0a0a" stroke-width="0.5" fill="#0a0a0a">48</text>
<line x1="315.80" y1="146.15" x2="325.20" y2="146.15" stroke="#0a0a0a" stroke-width="1.25"/>
<text x="320.70" y="153.70" font-size="7.6" text-anchor="middle" font-weight="normal" stroke="#0a0a0a" stroke-width="0.5" fill="#0a0a0a">24</text>
<line x1="327.10" y1="146.15" x2="336.50" y2="146.15" stroke="#0a0a0a" stroke-width="1.25"/>
<text x="332.00" y="153.70" font-size="7.6" text-anchor="middle" font-weight="normal" stroke="#0a0a0a" stroke-width="0.5" fill="#0a0a0a">48</text>
<line x1="293.20" y1="157.30" x2="313.85" y2="157.30" stroke="#0a0a0a" stroke-width="1.25"/>
<line x1="315.70" y1="157.30" x2="336.10" y2="157.30" stroke="#0a0a0a" stroke-width="1.25"/>
<text x="304.40" y="166.30" font-size="7.6" text-anchor="middle" font-weight="normal" stroke="#0a0a0a" stroke-width="0.5" fill="#0a0a0a">MM</text>
<text x="325.90" y="166.30" font-size="7.6" text-anchor="middle" font-weight="normal" stroke="#0a0a0a" stroke-width="0.5" fill="#0a0a0a">NC</text>
<line x1="293.20" y1="169.80" x2="338.10" y2="169.80" stroke="#0a0a0a" stroke-width="1.25"/>
<text x="315.50" y="177.60" font-size="7.6" text-anchor="middle" font-weight="normal" stroke="#0a0a0a" stroke-width="0.5" fill="#0a0a0a">Patient 1</text>
<rect x="347.90" y="138.53" width="4.39" height="3.47" fill="#0a0a0a" stroke="#0a0a0a" stroke-width="0.01"/>
<line x1="353.89" y1="73.71" x2="353.89" y2="67.05" stroke="#0a0a0a" stroke-width="0.95"/>
<line x1="352.04" y1="67.05" x2="355.74" y2="67.05" stroke="#0a0a0a" stroke-width="0.95"/>
<rect x="351.99" y="73.71" width="3.79" height="68.29" fill="#fff" stroke="#0a0a0a" stroke-width="1.0"/>
<line x1="357.68" y1="81.48" x2="357.68" y2="76.07" stroke="#777" stroke-width="1.5"/>
<line x1="355.82" y1="76.07" x2="359.53" y2="76.07" stroke="#777" stroke-width="1.5"/>
<svg x="355.78" y="81.48" width="3.79" height="60.52"><rect x="0" y="0" width="3.79" height="60.52" fill="url(#hC)"/></svg>
<rect x="355.78" y="81.48" width="3.79" height="60.52" fill="none" stroke="#0a0a0a" stroke-width="1.0"/>
<rect x="359.27" y="138.25" width="4.39" height="3.75" fill="#0a0a0a" stroke="#0a0a0a" stroke-width="0.01"/>
<line x1="365.26" y1="26.38" x2="365.26" y2="14.30" stroke="#0a0a0a" stroke-width="0.95"/>
<line x1="363.41" y1="14.30" x2="367.11" y2="14.30" stroke="#0a0a0a" stroke-width="0.95"/>
<rect x="363.36" y="26.38" width="3.79" height="115.62" fill="#fff" stroke="#0a0a0a" stroke-width="1.0"/>
<line x1="369.05" y1="34.57" x2="369.05" y2="24.58" stroke="#777" stroke-width="1.5"/>
<line x1="367.19" y1="24.58" x2="370.90" y2="24.58" stroke="#777" stroke-width="1.5"/>
<svg x="367.15" y="34.57" width="3.79" height="107.43"><rect x="0" y="0" width="3.79" height="107.43" fill="url(#hC)"/></svg>
<rect x="367.15" y="34.57" width="3.79" height="107.43" fill="none" stroke="#0a0a0a" stroke-width="1.0"/>
<rect x="370.64" y="139.50" width="4.39" height="2.50" fill="#0a0a0a" stroke="#0a0a0a" stroke-width="0.01"/>
<rect x="374.73" y="139.36" width="3.79" height="2.64" fill="#fff" stroke="#0a0a0a" stroke-width="1.0"/>
<svg x="378.52" y="139.22" width="3.79" height="2.78"><rect x="0" y="0" width="3.79" height="2.78" fill="url(#hC)"/></svg>
<rect x="378.52" y="139.22" width="3.79" height="2.78" fill="none" stroke="#0a0a0a" stroke-width="1.0"/>
<rect x="382.01" y="138.81" width="4.39" height="3.19" fill="#0a0a0a" stroke="#0a0a0a" stroke-width="0.01"/>
<rect x="386.10" y="138.39" width="3.79" height="3.61" fill="#fff" stroke="#0a0a0a" stroke-width="1.0"/>
<svg x="389.89" y="138.11" width="3.79" height="3.89"><rect x="0" y="0" width="3.79" height="3.89" fill="url(#hC)"/></svg>
<rect x="389.89" y="138.11" width="3.79" height="3.89" fill="none" stroke="#0a0a0a" stroke-width="1.0"/>
<line x1="349.30" y1="146.15" x2="358.70" y2="146.15" stroke="#0a0a0a" stroke-width="1.25"/>
<text x="354.20" y="153.70" font-size="7.6" text-anchor="middle" font-weight="normal" stroke="#0a0a0a" stroke-width="0.5" fill="#0a0a0a">24</text>
<line x1="360.60" y1="146.15" x2="370.00" y2="146.15" stroke="#0a0a0a" stroke-width="1.25"/>
<text x="365.50" y="153.70" font-size="7.6" text-anchor="middle" font-weight="normal" stroke="#0a0a0a" stroke-width="0.5" fill="#0a0a0a">48</text>
<line x1="371.90" y1="146.15" x2="381.30" y2="146.15" stroke="#0a0a0a" stroke-width="1.25"/>
<text x="376.80" y="153.70" font-size="7.6" text-anchor="middle" font-weight="normal" stroke="#0a0a0a" stroke-width="0.5" fill="#0a0a0a">24</text>
<line x1="383.20" y1="146.15" x2="392.60" y2="146.15" stroke="#0a0a0a" stroke-width="1.25"/>
<text x="388.10" y="153.70" font-size="7.6" text-anchor="middle" font-weight="normal" stroke="#0a0a0a" stroke-width="0.5" fill="#0a0a0a">48</text>
<line x1="349.30" y1="157.30" x2="369.95" y2="157.30" stroke="#0a0a0a" stroke-width="1.25"/>
<line x1="371.80" y1="157.30" x2="392.20" y2="157.30" stroke="#0a0a0a" stroke-width="1.25"/>
<text x="360.50" y="166.30" font-size="7.6" text-anchor="middle" font-weight="normal" stroke="#0a0a0a" stroke-width="0.5" fill="#0a0a0a">MM</text>
<text x="382.00" y="166.30" font-size="7.6" text-anchor="middle" font-weight="normal" stroke="#0a0a0a" stroke-width="0.5" fill="#0a0a0a">NC</text>
<line x1="349.30" y1="169.80" x2="394.20" y2="169.80" stroke="#0a0a0a" stroke-width="1.25"/>
<text x="371.60" y="177.60" font-size="7.6" text-anchor="middle" font-weight="normal" stroke="#0a0a0a" stroke-width="0.5" fill="#0a0a0a">Patient 2</text>
<rect x="404.00" y="138.53" width="4.39" height="3.47" fill="#0a0a0a" stroke="#0a0a0a" stroke-width="0.01"/>
<line x1="409.99" y1="87.17" x2="409.99" y2="81.76" stroke="#0a0a0a" stroke-width="0.95"/>
<line x1="408.13" y1="81.76" x2="411.84" y2="81.76" stroke="#0a0a0a" stroke-width="0.95"/>
<rect x="408.09" y="87.17" width="3.79" height="54.83" fill="#fff" stroke="#0a0a0a" stroke-width="1.0"/>
<line x1="413.77" y1="99.25" x2="413.77" y2="95.09" stroke="#777" stroke-width="1.5"/>
<line x1="411.92" y1="95.09" x2="415.62" y2="95.09" stroke="#777" stroke-width="1.5"/>
<svg x="411.88" y="99.25" width="3.79" height="42.75"><rect x="0" y="0" width="3.79" height="42.75" fill="url(#hC)"/></svg>
<rect x="411.88" y="99.25" width="3.79" height="42.75" fill="none" stroke="#0a0a0a" stroke-width="1.0"/>
<rect x="415.37" y="138.25" width="4.39" height="3.75" fill="#0a0a0a" stroke="#0a0a0a" stroke-width="0.01"/>
<line x1="421.36" y1="55.67" x2="421.36" y2="47.89" stroke="#0a0a0a" stroke-width="0.95"/>
<line x1="419.50" y1="47.89" x2="423.21" y2="47.89" stroke="#0a0a0a" stroke-width="0.95"/>
<rect x="419.46" y="55.67" width="3.79" height="86.33" fill="#fff" stroke="#0a0a0a" stroke-width="1.0"/>
<line x1="425.14" y1="71.77" x2="425.14" y2="63.72" stroke="#777" stroke-width="1.5"/>
<line x1="423.29" y1="63.72" x2="427.00" y2="63.72" stroke="#777" stroke-width="1.5"/>
<svg x="423.25" y="71.77" width="3.79" height="70.23"><rect x="0" y="0" width="3.79" height="70.23" fill="url(#hC)"/></svg>
<rect x="423.25" y="71.77" width="3.79" height="70.23" fill="none" stroke="#0a0a0a" stroke-width="1.0"/>
<rect x="426.74" y="139.50" width="4.39" height="2.50" fill="#0a0a0a" stroke="#0a0a0a" stroke-width="0.01"/>
<rect x="430.83" y="139.36" width="3.79" height="2.64" fill="#fff" stroke="#0a0a0a" stroke-width="1.0"/>
<svg x="434.62" y="139.22" width="3.79" height="2.78"><rect x="0" y="0" width="3.79" height="2.78" fill="url(#hC)"/></svg>
<rect x="434.62" y="139.22" width="3.79" height="2.78" fill="none" stroke="#0a0a0a" stroke-width="1.0"/>
<rect x="438.11" y="138.81" width="4.39" height="3.19" fill="#0a0a0a" stroke="#0a0a0a" stroke-width="0.01"/>
<rect x="442.20" y="138.39" width="3.79" height="3.61" fill="#fff" stroke="#0a0a0a" stroke-width="1.0"/>
<svg x="445.99" y="138.11" width="3.79" height="3.89"><rect x="0" y="0" width="3.79" height="3.89" fill="url(#hC)"/></svg>
<rect x="445.99" y="138.11" width="3.79" height="3.89" fill="none" stroke="#0a0a0a" stroke-width="1.0"/>
<line x1="405.40" y1="146.15" x2="414.80" y2="146.15" stroke="#0a0a0a" stroke-width="1.25"/>
<text x="410.30" y="153.70" font-size="7.6" text-anchor="middle" font-weight="normal" stroke="#0a0a0a" stroke-width="0.5" fill="#0a0a0a">24</text>
<line x1="416.70" y1="146.15" x2="426.10" y2="146.15" stroke="#0a0a0a" stroke-width="1.25"/>
<text x="421.60" y="153.70" font-size="7.6" text-anchor="middle" font-weight="normal" stroke="#0a0a0a" stroke-width="0.5" fill="#0a0a0a">48</text>
<line x1="428.00" y1="146.15" x2="437.40" y2="146.15" stroke="#0a0a0a" stroke-width="1.25"/>
<text x="432.90" y="153.70" font-size="7.6" text-anchor="middle" font-weight="normal" stroke="#0a0a0a" stroke-width="0.5" fill="#0a0a0a">24</text>
<line x1="439.30" y1="146.15" x2="448.70" y2="146.15" stroke="#0a0a0a" stroke-width="1.25"/>
<text x="444.20" y="153.70" font-size="7.6" text-anchor="middle" font-weight="normal" stroke="#0a0a0a" stroke-width="0.5" fill="#0a0a0a">48</text>
<line x1="405.40" y1="157.30" x2="426.05" y2="157.30" stroke="#0a0a0a" stroke-width="1.25"/>
<line x1="427.90" y1="157.30" x2="448.30" y2="157.30" stroke="#0a0a0a" stroke-width="1.25"/>
<text x="416.60" y="166.30" font-size="7.6" text-anchor="middle" font-weight="normal" stroke="#0a0a0a" stroke-width="0.5" fill="#0a0a0a">MM</text>
<text x="438.10" y="166.30" font-size="7.6" text-anchor="middle" font-weight="normal" stroke="#0a0a0a" stroke-width="0.5" fill="#0a0a0a">NC</text>
<line x1="405.40" y1="169.80" x2="450.30" y2="169.80" stroke="#0a0a0a" stroke-width="1.25"/>
<text x="427.70" y="177.60" font-size="7.6" text-anchor="middle" font-weight="normal" stroke="#0a0a0a" stroke-width="0.5" fill="#0a0a0a">Patient 3</text>
<rect x="460.10" y="138.53" width="4.39" height="3.47" fill="#0a0a0a" stroke="#0a0a0a" stroke-width="0.01"/>
<line x1="466.09" y1="83.70" x2="466.09" y2="77.87" stroke="#0a0a0a" stroke-width="0.95"/>
<line x1="464.24" y1="77.87" x2="467.94" y2="77.87" stroke="#0a0a0a" stroke-width="0.95"/>
<rect x="464.19" y="83.70" width="3.79" height="58.30" fill="#fff" stroke="#0a0a0a" stroke-width="1.0"/>
<line x1="469.88" y1="95.22" x2="469.88" y2="90.37" stroke="#777" stroke-width="1.5"/>
<line x1="468.02" y1="90.37" x2="471.73" y2="90.37" stroke="#777" stroke-width="1.5"/>
<svg x="467.98" y="95.22" width="3.79" height="46.78"><rect x="0" y="0" width="3.79" height="46.78" fill="url(#hC)"/></svg>
<rect x="467.98" y="95.22" width="3.79" height="46.78" fill="none" stroke="#0a0a0a" stroke-width="1.0"/>
<rect x="471.47" y="138.25" width="4.39" height="3.75" fill="#0a0a0a" stroke="#0a0a0a" stroke-width="0.01"/>
<line x1="477.46" y1="51.36" x2="477.46" y2="42.76" stroke="#0a0a0a" stroke-width="0.95"/>
<line x1="475.61" y1="42.76" x2="479.31" y2="42.76" stroke="#0a0a0a" stroke-width="0.95"/>
<rect x="475.56" y="51.36" width="3.79" height="90.64" fill="#fff" stroke="#0a0a0a" stroke-width="1.0"/>
<line x1="481.25" y1="67.05" x2="481.25" y2="59.28" stroke="#777" stroke-width="1.5"/>
<line x1="479.39" y1="59.28" x2="483.10" y2="59.28" stroke="#777" stroke-width="1.5"/>
<svg x="479.35" y="67.05" width="3.79" height="74.95"><rect x="0" y="0" width="3.79" height="74.95" fill="url(#hC)"/></svg>
<rect x="479.35" y="67.05" width="3.79" height="74.95" fill="none" stroke="#0a0a0a" stroke-width="1.0"/>
<rect x="482.84" y="139.50" width="4.39" height="2.50" fill="#0a0a0a" stroke="#0a0a0a" stroke-width="0.01"/>
<rect x="486.93" y="139.36" width="3.79" height="2.64" fill="#fff" stroke="#0a0a0a" stroke-width="1.0"/>
<svg x="490.72" y="139.22" width="3.79" height="2.78"><rect x="0" y="0" width="3.79" height="2.78" fill="url(#hC)"/></svg>
<rect x="490.72" y="139.22" width="3.79" height="2.78" fill="none" stroke="#0a0a0a" stroke-width="1.0"/>
<rect x="494.21" y="138.81" width="4.39" height="3.19" fill="#0a0a0a" stroke="#0a0a0a" stroke-width="0.01"/>
<rect x="498.30" y="138.39" width="3.79" height="3.61" fill="#fff" stroke="#0a0a0a" stroke-width="1.0"/>
<svg x="502.09" y="138.11" width="3.79" height="3.89"><rect x="0" y="0" width="3.79" height="3.89" fill="url(#hC)"/></svg>
<rect x="502.09" y="138.11" width="3.79" height="3.89" fill="none" stroke="#0a0a0a" stroke-width="1.0"/>
<line x1="461.50" y1="146.15" x2="470.90" y2="146.15" stroke="#0a0a0a" stroke-width="1.25"/>
<text x="466.40" y="153.70" font-size="7.6" text-anchor="middle" font-weight="normal" stroke="#0a0a0a" stroke-width="0.5" fill="#0a0a0a">24</text>
<line x1="472.80" y1="146.15" x2="482.20" y2="146.15" stroke="#0a0a0a" stroke-width="1.25"/>
<text x="477.70" y="153.70" font-size="7.6" text-anchor="middle" font-weight="normal" stroke="#0a0a0a" stroke-width="0.5" fill="#0a0a0a">48</text>
<line x1="484.10" y1="146.15" x2="493.50" y2="146.15" stroke="#0a0a0a" stroke-width="1.25"/>
<text x="489.00" y="153.70" font-size="7.6" text-anchor="middle" font-weight="normal" stroke="#0a0a0a" stroke-width="0.5" fill="#0a0a0a">24</text>
<line x1="495.40" y1="146.15" x2="504.80" y2="146.15" stroke="#0a0a0a" stroke-width="1.25"/>
<text x="500.30" y="153.70" font-size="7.6" text-anchor="middle" font-weight="normal" stroke="#0a0a0a" stroke-width="0.5" fill="#0a0a0a">48</text>
<line x1="461.50" y1="157.30" x2="482.15" y2="157.30" stroke="#0a0a0a" stroke-width="1.25"/>
<line x1="484.00" y1="157.30" x2="504.40" y2="157.30" stroke="#0a0a0a" stroke-width="1.25"/>
<text x="472.70" y="166.30" font-size="7.6" text-anchor="middle" font-weight="normal" stroke="#0a0a0a" stroke-width="0.5" fill="#0a0a0a">MM</text>
<text x="494.20" y="166.30" font-size="7.6" text-anchor="middle" font-weight="normal" stroke="#0a0a0a" stroke-width="0.5" fill="#0a0a0a">NC</text>
<line x1="461.50" y1="169.80" x2="506.40" y2="169.80" stroke="#0a0a0a" stroke-width="1.25"/>
<text x="483.80" y="177.60" font-size="7.6" text-anchor="middle" font-weight="normal" stroke="#0a0a0a" stroke-width="0.5" fill="#0a0a0a">Patient 4</text>
<text x="513.50" y="153.80" font-size="7.6" text-anchor="middle" font-weight="normal" stroke="#0a0a0a" stroke-width="0.5" fill="#0a0a0a">(h)</text>
<rect x="388.80" y="6.50" width="67.00" height="36.60" fill="#fff" stroke="#2a2a2a" stroke-width="1.4"/>
<rect x="393.50" y="10.50" width="16.10" height="7.70" fill="#0a0a0a" stroke="#0a0a0a" stroke-width="0.3"/>
<text x="414.20" y="17.32" font-size="7.6" text-anchor="start" font-weight="normal" stroke="#0a0a0a" stroke-width="0.5" fill="#0a0a0a">Control</text>
<rect x="394.00" y="22.00" width="15.10" height="6.40" fill="#fff" stroke="#0a0a0a" stroke-width="1.0"/>
<text x="414.20" y="27.72" font-size="7.6" text-anchor="start" font-weight="normal" stroke="#0a0a0a" stroke-width="0.5" fill="#0a0a0a">Edelfosine</text>
<svg x="394.00" y="32.80" width="15.10" height="6.40"><rect x="0" y="0" width="15.10" height="6.40" fill="url(#hL)"/></svg>
<rect x="394.00" y="32.80" width="15.10" height="6.40" fill="none" stroke="#0a0a0a" stroke-width="1.0"/>
<text x="414.20" y="38.92" font-size="7.6" text-anchor="start" font-weight="normal" stroke="#0a0a0a" stroke-width="0.5" fill="#0a0a0a">Perifosine</text>
<text x="257.30" y="189.00" font-size="16.5" text-anchor="start" font-weight="bold" stroke="#0a0a0a" stroke-width="0.4" fill="#0a0a0a">D</text>
<line x1="288.60" y1="190.00" x2="288.60" y2="321.30" stroke="#0a0a0a" stroke-width="1.4"/>
<line x1="285.40" y1="320.60" x2="288.60" y2="320.60" stroke="#0a0a0a" stroke-width="1.0"/>
<text transform="translate(284.40 324.14) scale(0.94 1)" font-size="9.9" text-anchor="end" stroke="#0a0a0a" stroke-width="0.5" fill="#0a0a0a">0</text>
<line x1="286.90" y1="314.40" x2="288.60" y2="314.40" stroke="#0a0a0a" stroke-width="1.0"/>
<line x1="285.40" y1="308.19" x2="288.60" y2="308.19" stroke="#0a0a0a" stroke-width="1.0"/>
<text transform="translate(284.40 311.73) scale(0.94 1)" font-size="9.9" text-anchor="end" stroke="#0a0a0a" stroke-width="0.5" fill="#0a0a0a">10</text>
<line x1="286.90" y1="301.99" x2="288.60" y2="301.99" stroke="#0a0a0a" stroke-width="1.0"/>
<line x1="285.40" y1="295.78" x2="288.60" y2="295.78" stroke="#0a0a0a" stroke-width="1.0"/>
<text transform="translate(284.40 299.32) scale(0.94 1)" font-size="9.9" text-anchor="end" stroke="#0a0a0a" stroke-width="0.5" fill="#0a0a0a">20</text>
<line x1="286.90" y1="289.58" x2="288.60" y2="289.58" stroke="#0a0a0a" stroke-width="1.0"/>
<line x1="285.40" y1="283.37" x2="288.60" y2="283.37" stroke="#0a0a0a" stroke-width="1.0"/>
<text transform="translate(284.40 286.91) scale(0.94 1)" font-size="9.9" text-anchor="end" stroke="#0a0a0a" stroke-width="0.5" fill="#0a0a0a">30</text>
<line x1="286.90" y1="277.17" x2="288.60" y2="277.17" stroke="#0a0a0a" stroke-width="1.0"/>
<line x1="285.40" y1="270.96" x2="288.60" y2="270.96" stroke="#0a0a0a" stroke-width="1.0"/>
<text transform="translate(284.40 274.50) scale(0.94 1)" font-size="9.9" text-anchor="end" stroke="#0a0a0a" stroke-width="0.5" fill="#0a0a0a">40</text>
<line x1="286.90" y1="264.75" x2="288.60" y2="264.75" stroke="#0a0a0a" stroke-width="1.0"/>
<line x1="285.40" y1="258.55" x2="288.60" y2="258.55" stroke="#0a0a0a" stroke-width="1.0"/>
<text transform="translate(284.40 262.09) scale(0.94 1)" font-size="9.9" text-anchor="end" stroke="#0a0a0a" stroke-width="0.5" fill="#0a0a0a">50</text>
<line x1="286.90" y1="252.35" x2="288.60" y2="252.35" stroke="#0a0a0a" stroke-width="1.0"/>
<line x1="285.40" y1="246.14" x2="288.60" y2="246.14" stroke="#0a0a0a" stroke-width="1.0"/>
<text transform="translate(284.40 249.68) scale(0.94 1)" font-size="9.9" text-anchor="end" stroke="#0a0a0a" stroke-width="0.5" fill="#0a0a0a">60</text>
<line x1="286.90" y1="239.94" x2="288.60" y2="239.94" stroke="#0a0a0a" stroke-width="1.0"/>
<line x1="285.40" y1="233.73" x2="288.60" y2="233.73" stroke="#0a0a0a" stroke-width="1.0"/>
<text transform="translate(284.40 237.27) scale(0.94 1)" font-size="9.9" text-anchor="end" stroke="#0a0a0a" stroke-width="0.5" fill="#0a0a0a">70</text>
<line x1="286.90" y1="227.53" x2="288.60" y2="227.53" stroke="#0a0a0a" stroke-width="1.0"/>
<line x1="285.40" y1="221.32" x2="288.60" y2="221.32" stroke="#0a0a0a" stroke-width="1.0"/>
<text transform="translate(284.40 224.86) scale(0.94 1)" font-size="9.9" text-anchor="end" stroke="#0a0a0a" stroke-width="0.5" fill="#0a0a0a">80</text>
<line x1="286.90" y1="215.12" x2="288.60" y2="215.12" stroke="#0a0a0a" stroke-width="1.0"/>
<line x1="285.40" y1="208.91" x2="288.60" y2="208.91" stroke="#0a0a0a" stroke-width="1.0"/>
<text transform="translate(284.40 212.45) scale(0.94 1)" font-size="9.9" text-anchor="end" stroke="#0a0a0a" stroke-width="0.5" fill="#0a0a0a">90</text>
<line x1="286.90" y1="202.71" x2="288.60" y2="202.71" stroke="#0a0a0a" stroke-width="1.0"/>
<line x1="285.40" y1="196.50" x2="288.60" y2="196.50" stroke="#0a0a0a" stroke-width="1.0"/>
<text transform="translate(284.40 200.04) scale(0.94 1)" font-size="9.9" text-anchor="end" stroke="#0a0a0a" stroke-width="0.5" fill="#0a0a0a">100</text>
<line x1="286.90" y1="190.30" x2="288.60" y2="190.30" stroke="#0a0a0a" stroke-width="1.0"/>
<line x1="288.00" y1="320.60" x2="513.60" y2="320.60" stroke="#0a0a0a" stroke-width="1.4"/>
<text x="265.60" y="255.60" font-size="10" text-anchor="middle" font-weight="normal" stroke="#0a0a0a" stroke-width="0.5" fill="#0a0a0a" transform="rotate(-90 265.60 255.60)">% Apoptosis</text>
<rect x="292.70" y="318.49" width="6.64" height="2.11" fill="#0a0a0a" stroke="#0a0a0a" stroke-width="0.01"/>
<rect x="299.04" y="318.37" width="6.04" height="2.23" fill="#fff" stroke="#0a0a0a" stroke-width="1.0"/>
<svg x="305.08" y="318.37" width="6.04" height="2.23"><rect x="0" y="0" width="6.04" height="2.23" fill="url(#hD)"/></svg>
<rect x="305.08" y="318.37" width="6.04" height="2.23" fill="none" stroke="#0a0a0a" stroke-width="1.0"/>
<rect x="310.82" y="317.62" width="6.64" height="2.98" fill="#0a0a0a" stroke="#0a0a0a" stroke-width="0.01"/>
<rect x="317.16" y="316.63" width="6.04" height="3.97" fill="#fff" stroke="#0a0a0a" stroke-width="1.0"/>
<svg x="323.20" y="316.38" width="6.04" height="4.22"><rect x="0" y="0" width="6.04" height="4.22" fill="url(#hD)"/></svg>
<rect x="323.20" y="316.38" width="6.04" height="4.22" fill="none" stroke="#0a0a0a" stroke-width="1.0"/>
<line x1="294.40" y1="324.30" x2="310.00" y2="324.30" stroke="#0a0a0a" stroke-width="1.25"/>
<line x1="311.90" y1="324.30" x2="328.10" y2="324.30" stroke="#0a0a0a" stroke-width="1.25"/>
<text x="303.00" y="332.10" font-size="7.6" text-anchor="middle" font-weight="normal" stroke="#0a0a0a" stroke-width="0.5" fill="#0a0a0a">24</text>
<text x="320.00" y="332.10" font-size="7.6" text-anchor="middle" font-weight="normal" stroke="#0a0a0a" stroke-width="0.5" fill="#0a0a0a">48</text>
<line x1="294.40" y1="334.60" x2="328.10" y2="334.60" stroke="#0a0a0a" stroke-width="1.25"/>
<text x="310.40" y="344.00" font-size="7.6" text-anchor="middle" font-weight="normal" stroke="#0a0a0a" stroke-width="0.5" fill="#0a0a0a">PBL</text>
<rect x="337.80" y="318.49" width="6.64" height="2.11" fill="#0a0a0a" stroke="#0a0a0a" stroke-width="0.01"/>
<rect x="344.14" y="318.37" width="6.04" height="2.23" fill="#fff" stroke="#0a0a0a" stroke-width="1.0"/>
<svg x="350.18" y="318.37" width="6.04" height="2.23"><rect x="0" y="0" width="6.04" height="2.23" fill="url(#hD)"/></svg>
<rect x="350.18" y="318.37" width="6.04" height="2.23" fill="none" stroke="#0a0a0a" stroke-width="1.0"/>
<rect x="355.92" y="317.62" width="6.64" height="2.98" fill="#0a0a0a" stroke="#0a0a0a" stroke-width="0.01"/>
<rect x="362.26" y="316.88" width="6.04" height="3.72" fill="#fff" stroke="#0a0a0a" stroke-width="1.0"/>
<svg x="368.30" y="315.39" width="6.04" height="5.21"><rect x="0" y="0" width="6.04" height="5.21" fill="url(#hD)"/></svg>
<rect x="368.30" y="315.39" width="6.04" height="5.21" fill="none" stroke="#0a0a0a" stroke-width="1.0"/>
<line x1="339.50" y1="324.30" x2="355.10" y2="324.30" stroke="#0a0a0a" stroke-width="1.25"/>
<line x1="357.00" y1="324.30" x2="373.20" y2="324.30" stroke="#0a0a0a" stroke-width="1.25"/>
<text x="348.10" y="332.10" font-size="7.6" text-anchor="middle" font-weight="normal" stroke="#0a0a0a" stroke-width="0.5" fill="#0a0a0a">24</text>
<text x="365.10" y="332.10" font-size="7.6" text-anchor="middle" font-weight="normal" stroke="#0a0a0a" stroke-width="0.5" fill="#0a0a0a">48</text>
<line x1="339.50" y1="334.60" x2="373.20" y2="334.60" stroke="#0a0a0a" stroke-width="1.25"/>
<text x="355.50" y="344.00" font-size="7.6" text-anchor="middle" font-weight="normal" stroke="#0a0a0a" stroke-width="0.5" fill="#0a0a0a">PBL-T</text>
<rect x="382.70" y="318.49" width="6.64" height="2.11" fill="#0a0a0a" stroke="#0a0a0a" stroke-width="0.01"/>
<rect x="389.04" y="318.37" width="6.04" height="2.23" fill="#fff" stroke="#0a0a0a" stroke-width="1.0"/>
<svg x="395.08" y="318.37" width="6.04" height="2.23"><rect x="0" y="0" width="6.04" height="2.23" fill="url(#hD)"/></svg>
<rect x="395.08" y="318.37" width="6.04" height="2.23" fill="none" stroke="#0a0a0a" stroke-width="1.0"/>
<rect x="400.82" y="317.62" width="6.64" height="2.98" fill="#0a0a0a" stroke="#0a0a0a" stroke-width="0.01"/>
<rect x="407.16" y="316.75" width="6.04" height="3.85" fill="#fff" stroke="#0a0a0a" stroke-width="1.0"/>
<svg x="413.20" y="315.88" width="6.04" height="4.72"><rect x="0" y="0" width="6.04" height="4.72" fill="url(#hD)"/></svg>
<rect x="413.20" y="315.88" width="6.04" height="4.72" fill="none" stroke="#0a0a0a" stroke-width="1.0"/>
<line x1="384.40" y1="324.30" x2="400.00" y2="324.30" stroke="#0a0a0a" stroke-width="1.25"/>
<line x1="401.90" y1="324.30" x2="418.10" y2="324.30" stroke="#0a0a0a" stroke-width="1.25"/>
<text x="393.00" y="332.10" font-size="7.6" text-anchor="middle" font-weight="normal" stroke="#0a0a0a" stroke-width="0.5" fill="#0a0a0a">24</text>
<text x="410.00" y="332.10" font-size="7.6" text-anchor="middle" font-weight="normal" stroke="#0a0a0a" stroke-width="0.5" fill="#0a0a0a">48</text>
<line x1="384.40" y1="334.60" x2="418.10" y2="334.60" stroke="#0a0a0a" stroke-width="1.25"/>
<text x="400.40" y="344.00" font-size="7.6" text-anchor="middle" font-weight="normal" stroke="#0a0a0a" stroke-width="0.5" fill="#0a0a0a">PBL-B</text>
<rect x="427.60" y="317.75" width="6.64" height="2.85" fill="#0a0a0a" stroke="#0a0a0a" stroke-width="0.01"/>
<line x1="436.96" y1="243.66" x2="436.96" y2="235.59" stroke="#0a0a0a" stroke-width="0.95"/>
<line x1="434.66" y1="235.59" x2="439.26" y2="235.59" stroke="#0a0a0a" stroke-width="0.95"/>
<rect x="433.94" y="243.66" width="6.04" height="76.94" fill="#fff" stroke="#0a0a0a" stroke-width="1.0"/>
<line x1="443.00" y1="257.31" x2="443.00" y2="249.86" stroke="#0a0a0a" stroke-width="0.95"/>
<line x1="440.70" y1="249.86" x2="445.30" y2="249.86" stroke="#0a0a0a" stroke-width="0.95"/>
<svg x="439.98" y="257.31" width="6.04" height="63.29"><rect x="0" y="0" width="6.04" height="63.29" fill="url(#hD)"/></svg>
<rect x="439.98" y="257.31" width="6.04" height="63.29" fill="none" stroke="#0a0a0a" stroke-width="1.0"/>
<rect x="445.72" y="317.50" width="6.64" height="3.10" fill="#0a0a0a" stroke="#0a0a0a" stroke-width="0.01"/>
<line x1="455.08" y1="210.77" x2="455.08" y2="200.84" stroke="#0a0a0a" stroke-width="0.95"/>
<line x1="452.78" y1="200.84" x2="457.38" y2="200.84" stroke="#0a0a0a" stroke-width="0.95"/>
<rect x="452.06" y="210.77" width="6.04" height="109.83" fill="#fff" stroke="#0a0a0a" stroke-width="1.0"/>
<line x1="461.12" y1="226.90" x2="461.12" y2="218.22" stroke="#0a0a0a" stroke-width="0.95"/>
<line x1="458.82" y1="218.22" x2="463.42" y2="218.22" stroke="#0a0a0a" stroke-width="0.95"/>
<svg x="458.10" y="226.90" width="6.04" height="93.70"><rect x="0" y="0" width="6.04" height="93.70" fill="url(#hD)"/></svg>
<rect x="458.10" y="226.90" width="6.04" height="93.70" fill="none" stroke="#0a0a0a" stroke-width="1.0"/>
<line x1="429.60" y1="324.30" x2="445.00" y2="324.30" stroke="#0a0a0a" stroke-width="1.25"/>
<line x1="446.90" y1="324.30" x2="462.70" y2="324.30" stroke="#0a0a0a" stroke-width="1.25"/>
<text x="436.90" y="332.10" font-size="7.6" text-anchor="middle" font-weight="normal" stroke="#0a0a0a" stroke-width="0.5" fill="#0a0a0a">24</text>
<text x="454.60" y="332.10" font-size="7.6" text-anchor="middle" font-weight="normal" stroke="#0a0a0a" stroke-width="0.5" fill="#0a0a0a">48</text>
<line x1="428.70" y1="334.60" x2="466.00" y2="334.60" stroke="#0a0a0a" stroke-width="1.25"/>
<text x="446.90" y="344.00" font-size="7.6" text-anchor="middle" font-weight="normal" stroke="#0a0a0a" stroke-width="0.5" fill="#0a0a0a">JK</text>
<rect x="472.90" y="317.50" width="6.64" height="3.10" fill="#0a0a0a" stroke="#0a0a0a" stroke-width="0.01"/>
<line x1="482.26" y1="238.69" x2="482.26" y2="231.25" stroke="#0a0a0a" stroke-width="0.95"/>
<line x1="479.96" y1="231.25" x2="484.56" y2="231.25" stroke="#0a0a0a" stroke-width="0.95"/>
<rect x="479.24" y="238.69" width="6.04" height="81.91" fill="#fff" stroke="#0a0a0a" stroke-width="1.0"/>
<line x1="488.30" y1="253.59" x2="488.30" y2="247.38" stroke="#0a0a0a" stroke-width="0.95"/>
<line x1="486.00" y1="247.38" x2="490.60" y2="247.38" stroke="#0a0a0a" stroke-width="0.95"/>
<svg x="485.28" y="253.59" width="6.04" height="67.01"><rect x="0" y="0" width="6.04" height="67.01" fill="url(#hD)"/></svg>
<rect x="485.28" y="253.59" width="6.04" height="67.01" fill="none" stroke="#0a0a0a" stroke-width="1.0"/>
<rect x="491.02" y="317.50" width="6.64" height="3.10" fill="#0a0a0a" stroke="#0a0a0a" stroke-width="0.01"/>
<line x1="500.38" y1="205.19" x2="500.38" y2="199.23" stroke="#0a0a0a" stroke-width="0.95"/>
<line x1="498.08" y1="199.23" x2="502.68" y2="199.23" stroke="#0a0a0a" stroke-width="0.95"/>
<rect x="497.36" y="205.19" width="6.04" height="115.41" fill="#fff" stroke="#0a0a0a" stroke-width="1.0"/>
<line x1="506.42" y1="221.32" x2="506.42" y2="213.25" stroke="#0a0a0a" stroke-width="0.95"/>
<line x1="504.12" y1="213.25" x2="508.72" y2="213.25" stroke="#0a0a0a" stroke-width="0.95"/>
<svg x="503.40" y="221.32" width="6.04" height="99.28"><rect x="0" y="0" width="6.04" height="99.28" fill="url(#hD)"/></svg>
<rect x="503.40" y="221.32" width="6.04" height="99.28" fill="none" stroke="#0a0a0a" stroke-width="1.0"/>
<line x1="472.90" y1="324.30" x2="490.20" y2="324.30" stroke="#0a0a0a" stroke-width="1.25"/>
<line x1="492.10" y1="324.30" x2="509.40" y2="324.30" stroke="#0a0a0a" stroke-width="1.25"/>
<text x="482.50" y="332.10" font-size="7.6" text-anchor="middle" font-weight="normal" stroke="#0a0a0a" stroke-width="0.5" fill="#0a0a0a">24</text>
<text x="500.80" y="332.10" font-size="7.6" text-anchor="middle" font-weight="normal" stroke="#0a0a0a" stroke-width="0.5" fill="#0a0a0a">48</text>
<line x1="473.80" y1="334.60" x2="509.40" y2="334.60" stroke="#0a0a0a" stroke-width="1.25"/>
<text x="493.50" y="344.00" font-size="7.6" text-anchor="middle" font-weight="normal" stroke="#0a0a0a" stroke-width="0.5" fill="#0a0a0a">JY</text>
<text x="514.70" y="332.10" font-size="7.6" text-anchor="middle" font-weight="normal" stroke="#0a0a0a" stroke-width="0.5" fill="#0a0a0a">(h)</text>
<rect x="319.40" y="196.50" width="68.00" height="38.50" fill="#fff" stroke="#2a2a2a" stroke-width="1.4"/>
<rect x="322.50" y="201.20" width="16.40" height="7.60" fill="#0a0a0a" stroke="#0a0a0a" stroke-width="0.3"/>
<text x="342.80" y="207.72" font-size="7.6" text-anchor="start" font-weight="normal" stroke="#0a0a0a" stroke-width="0.5" fill="#0a0a0a">Control</text>
<rect x="323.00" y="212.90" width="15.40" height="6.20" fill="#fff" stroke="#0a0a0a" stroke-width="1.0"/>
<text x="342.80" y="218.52" font-size="7.6" text-anchor="start" font-weight="normal" stroke="#0a0a0a" stroke-width="0.5" fill="#0a0a0a">Edelfosine</text>
<svg x="323.00" y="223.20" width="15.40" height="6.70"><rect x="0" y="0" width="15.40" height="6.70" fill="url(#hL)"/></svg>
<rect x="323.00" y="223.20" width="15.40" height="6.70" fill="none" stroke="#0a0a0a" stroke-width="1.0"/>
<text x="342.80" y="228.92" font-size="7.6" text-anchor="start" font-weight="normal" stroke="#0a0a0a" stroke-width="0.5" fill="#0a0a0a">Perifosine</text>
</svg>
</body></html>
